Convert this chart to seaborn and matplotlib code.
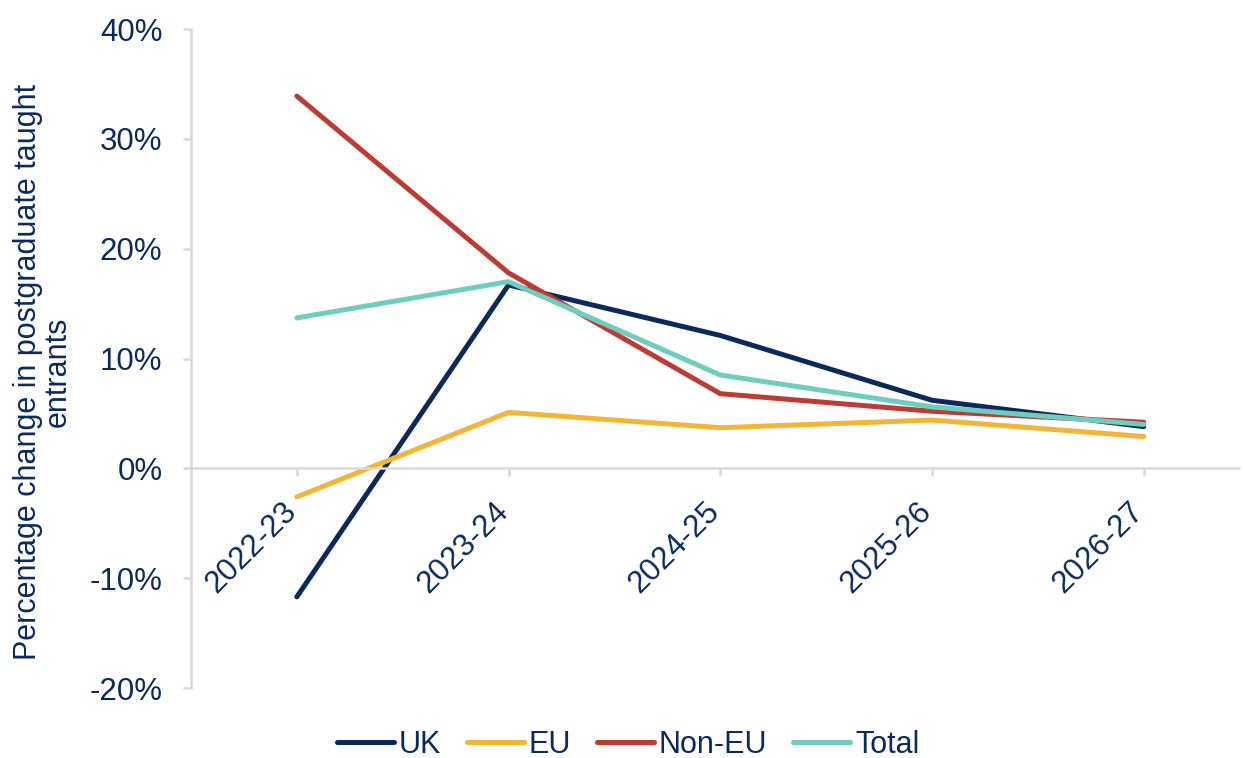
"""
Postgraduate taught entrants: projected percentage change by domicile.
"""
import matplotlib
matplotlib.use("Agg")
import matplotlib.pyplot as plt
import numpy as np
import pandas as pd
import seaborn as sns
from matplotlib.ticker import FuncFormatter
from matplotlib.transforms import ScaledTranslation

YEARS = ["2022-23", "2023-24", "2024-25", "2025-26", "2026-27"]

UK = [-11.7, 16.7, 12.1, 6.2, 3.8]
EU = [-2.6, 5.1, 3.7, 4.4, 2.9]
NON_EU = [33.9, 17.8, 6.8, 5.2, 4.2]
TOTAL = [13.7, 17.0, 8.5, 5.6, 4.0]

SERIES = ["UK", "EU", "Non-EU", "Total"]
COLORS = ["#0B2A5B", "#F2B535", "#BF3A33", "#6FCDBD"]
TEXT = "#0B2A5B"
GRID = "#D9D9D9"

# ── Long-form table ──────────────────────────────────────────────────────────
df = pd.DataFrame({
    "year": YEARS * 4,
    "x": list(range(len(YEARS))) * 4,
    "series": np.repeat(SERIES, len(YEARS)),
    "value": UK + EU + NON_EU + TOTAL,
})

sns.set_theme(style="white")
plt.rcParams["font.family"] = ["Liberation Sans", "DejaVu Sans"]

fig = plt.figure(figsize=(12.44, 7.58), dpi=100)
ax = fig.add_axes([0.1535, 0.0923, 0.8425, 0.8694])

sns.lineplot(
    data=df, x="x", y="value", hue="series", hue_order=SERIES,
    palette=COLORS, linewidth=3.6, ax=ax, legend=True,
)
for line in ax.get_lines():
    line.set_solid_capstyle("round")

# x axis sits on the zero line (set before tick labels: this resets ticks)
ax.spines["bottom"].set_position(("data", 0))
for side in ["top", "right"]:
    ax.spines[side].set_visible(False)
for side in ["left", "bottom"]:
    ax.spines[side].set_color(GRID)
    ax.spines[side].set_linewidth(1.8)

ax.set_xlim(-0.5, 4.45)
ax.set_ylim(-20, 40)
ax.set_yticks(range(-20, 41, 10))
ax.yaxis.set_major_formatter(FuncFormatter(lambda v, _: f"{v:.0f}%"))
ax.set_xticks(range(len(YEARS)))
ax.set_xticklabels(YEARS, rotation=45, ha="right", va="center",
                   rotation_mode="anchor")

ax.tick_params(axis="both", colors=GRID, length=6, width=1.8,
               labelcolor=TEXT, labelsize=22.5, bottom=True, left=True)
ax.tick_params(axis="x", pad=22)
ax.tick_params(axis="y", pad=14.5)

# nudge rotated labels so their end sits just left of the tick
shift = ScaledTranslation(-0.05, 0, fig.dpi_scale_trans)
for lab in ax.get_xticklabels():
    lab.set_transform(lab.get_transform() + shift)

ax.set_xlabel("")
ax.set_ylabel("Percentage change in postgraduate taught\nentrants",
              fontsize=22, color=TEXT, linespacing=1.0)
ax.yaxis.set_label_coords(-0.113, 0.48)

ax.legend(
    loc="center", bbox_to_anchor=(0.417, -0.0865), ncol=4, frameon=False,
    fontsize=22, labelcolor=TEXT, handlelength=1.86, handletextpad=0.16,
    columnspacing=0.85,
)

plt.savefig("out.png", dpi=100)
plt.close()
